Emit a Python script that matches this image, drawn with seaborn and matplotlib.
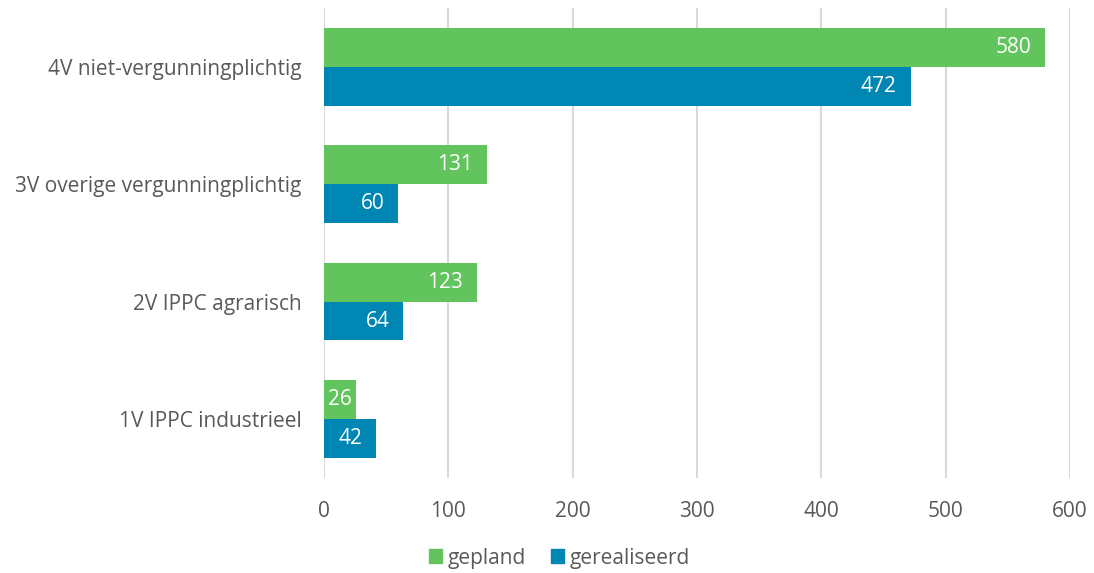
import matplotlib
matplotlib.use("Agg")
import matplotlib.pyplot as plt
import seaborn as sns
import pandas as pd
from matplotlib.patches import Patch

FONT_SIZE = 15
TEXT_COLOR = "#595959"

categories = [
    "4V niet-vergunningplichtig",
    "3V overige vergunningplichtig",
    "2V IPPC agrarisch",
    "1V IPPC industrieel",
]
gepland = [580, 131, 123, 26]
gerealiseerd = [472, 60, 64, 42]
series = ["gepland", "gerealiseerd"]
colors = ["#62C45C", "#0086B3"]
x_ticks = [0, 100, 200, 300, 400, 500, 600]

df = pd.DataFrame({
    "categorie": categories * 2,
    "serie": ["gepland"] * 4 + ["gerealiseerd"] * 4,
    "aantal": gepland + gerealiseerd,
})

sns.set_style("white")
plt.rcParams["font.family"] = ["Open Sans", "DejaVu Sans"]

fig = plt.figure(figsize=(10.94, 5.73), dpi=100)
ax = fig.add_axes([0.296, 0.166, 0.682, 0.82])

sns.barplot(
    data=df, y="categorie", x="aantal", hue="serie", order=categories,
    hue_order=series, palette=colors, orient="h", width=0.66,
    saturation=1, linewidth=0, ax=ax, legend=False,
)

# labels inside the bar end, white
for container in ax.containers:
    for p in container:
        w = p.get_width()
        yc = p.get_y() + p.get_height() / 2
        if w < 50:
            ax.annotate(f"{w:.0f}", (w / 2, yc), ha="center", va="center",
                        color="white", fontsize=FONT_SIZE)
        else:
            ax.annotate(f"{w:.0f}", (w, yc), xytext=(-10, 0),
                        textcoords="offset points", ha="right", va="center",
                        color="white", fontsize=FONT_SIZE)

ax.set_xlim(0, 600)
ax.set_xticks(x_ticks)
ax.set_xlabel("")
ax.set_ylabel("")
ax.grid(axis="x", color="#D9D9D9", linewidth=1.5)
ax.grid(axis="y", visible=False)
ax.set_axisbelow(True)
for s in ax.spines.values():
    s.set_visible(False)
ax.tick_params(axis="both", length=0, labelsize=FONT_SIZE, colors=TEXT_COLOR)
ax.tick_params(axis="x", pad=17)
ax.tick_params(axis="y", pad=16)

handles = [Patch(color=c, label=s) for c, s in zip(colors, series)]
fig.legend(handles=handles, loc="lower center", ncol=2, frameon=False,
           fontsize=FONT_SIZE, handlelength=0.65, handleheight=0.65,
           handletextpad=0.25, columnspacing=1.2, labelcolor=TEXT_COLOR,
           bbox_to_anchor=(0.511, -0.025))

fig.savefig("out.png", dpi=100)
